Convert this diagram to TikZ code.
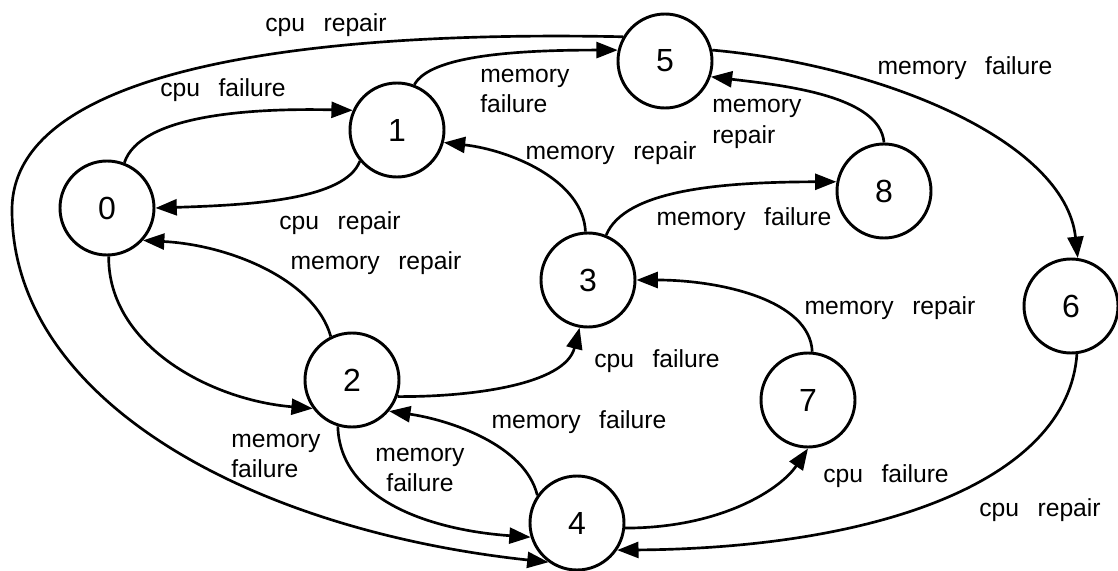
\documentclass[tikz,border=0pt]{standalone}
\usepackage{fontspec}
\setmainfont{Liberation Sans}
\usetikzlibrary{arrows.meta}
% label text: Helvetica-like, with wide gaps between words
\newcommand\lblfont{\fontsize{18.5}{23}\selectfont\spaceskip=0.75em\relax}
\newcommand\numfont{\fontsize{24}{24}\selectfont}
\begin{document}
\begin{tikzpicture}[x=0.75pt,y=-0.75pt,
  state/.style={circle, draw, line width=2.2pt, minimum size=70.5pt, inner sep=0pt, font=\numfont},
  lbl/.style={inner sep=0pt, font=\lblfont},
  trans/.style={line width=2pt, -{Triangle[length=16pt,width=12pt]}}
]
\useasboundingbox (0,0) rectangle (1118,571);

% states
\node[state] (n0) at (107,208) {0};
\node[state] (n1) at (397,130) {1};
\node[state] (n2) at (352,380) {2};
\node[state] (n3) at (588,280) {3};
\node[state] (n4) at (577,523) {4};
\node[state] (n5) at (665,61)  {5};
\node[state] (n6) at (1071,306) {6};
\node[state] (n7) at (808,400) {7};
\node[state] (n8) at (884,191) {8};

% transitions
\draw[trans] (n0.69) .. controls (140,115) and (250,108) .. (n1.156);
\draw[trans] (n1.220) .. controls (345,200) and (250,205) .. (n0.0);
\draw[trans] (n2.116) .. controls (315,280) and (230,245) .. (n0.318);
\draw[trans] (n0.272) .. controls (108,345) and (210,400) .. (n2.216);
\draw[trans] (n2.340) .. controls (470,397) and (565,385) .. (n3.260);
\draw[trans] (n2.253) .. controls (340,500) and (430,530) .. (n4.197);
\draw[trans] (n4.145) .. controls (525,445) and (450,420) .. (n2.320);
\draw[trans] (n4.354) .. controls (720,528) and (780,490) .. (n7.270);
\draw[trans] (n6.277) .. controls (1068,480) and (880,548) .. (n4.326);
\draw[trans] (n7.85) .. controls (810,300) and (720,280) .. (n3.0);
\draw[trans] (n3.93) .. controls (583,180) and (510,150) .. (n1.345);
\draw[trans] (n3.68) .. controls (625,190) and (720,182) .. (n8.169);
\draw[trans] (n8.90) .. controls (880,95) and (780,85) .. (n5.341);
\draw[trans] (n1.69) .. controls (430,55) and (520,50) .. (n5.167);
\draw[trans] (n5.13) .. controls (880,65) and (1065,140) .. (n6.82);
\coordinate (bend) at (12,210);
\draw[trans] (n5.150) .. controls (300,30) and (12,70) .. (bend)
                      .. controls (12,400) and (250,530) .. (n4.234);

% labels
\node[lbl] (l1)  at (326,25)  {cpu repair};
\node[lbl] (l2)  at (223,90)  {cpu failure};
\node[lbl, align=left, anchor=west] (l3) at (480,91) {memory\\failure};
\node[lbl] (l4)  at (965,68)  {memory failure};
\node[lbl, align=left, anchor=west] (l5) at (712,124) {memory\\repair};
\node[lbl] (l6)  at (611,153) {memory repair};
\node[lbl] (l7)  at (340,223) {cpu repair};
\node[lbl] (l8)  at (376,263) {memory repair};
\node[lbl] (l9)  at (744,219) {memory failure};
\node[lbl] (l10) at (890,308) {memory repair};
\node[lbl] (l11) at (657,361) {cpu failure};
\node[lbl] (l12) at (579,422) {memory failure};
\node[lbl, align=left, anchor=west] (l13) at (231,456) {memory\\failure};
\node[lbl, align=center] (l14) at (420,470) {memory\\failure};
\node[lbl] (l15) at (886,476) {cpu failure};
\node[lbl] (l16) at (1040,510) {cpu repair};
\end{tikzpicture}
\end{document}
